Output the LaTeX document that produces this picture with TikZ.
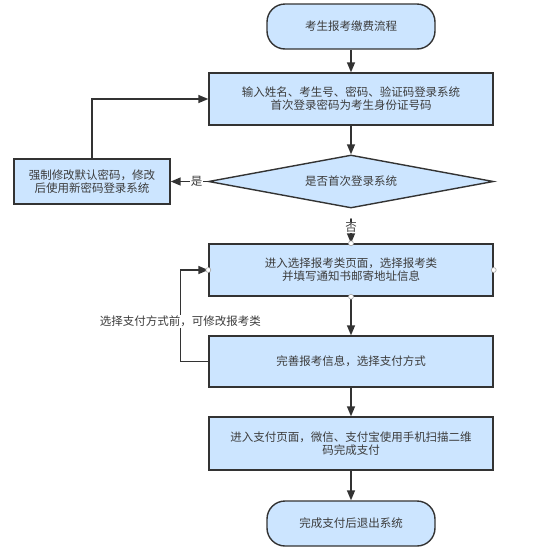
\documentclass[tikz,border=0pt]{standalone}
\usepackage{fontspec}
\setmainfont{Noto Sans CJK SC}
\usetikzlibrary{shapes.geometric,arrows.meta}
\definecolor{boxfill}{HTML}{CCE5FF}
\definecolor{boxline}{HTML}{333333}
\definecolor{txt}{HTML}{3C3C3C}
\begin{document}
\begin{tikzpicture}[x=1pt,y=-1pt,
  every node/.style={font=\fontsize{11.5}{13}\selectfont, text=txt},
  proc/.style={draw=boxline, fill=boxfill, line width=1.4pt, minimum width=284pt, minimum height=52pt, align=center, inner sep=0pt},
  term/.style={draw=boxline, fill=boxfill, line width=1.4pt, rounded corners=18pt, minimum width=168pt, minimum height=45pt, align=center, inner sep=0pt},
  decide/.style={draw=boxline, fill=boxfill, line width=1.4pt, diamond, aspect=5.4, minimum width=285pt, minimum height=53pt, inner sep=0pt},
  conn/.style={draw=boxline, line width=1.5pt, -{Triangle[length=10pt,width=8pt]}},
  lbl/.style={fill=white, inner sep=1pt},
  port/.style={circle, draw=gray!70, fill=white, line width=0.6pt, minimum size=5pt, inner sep=0pt}]
\useasboundingbox (0,0) rectangle (540,555);

\node[term] (start) at (351,26.5) {考生报考缴费流程};
\node[proc] (login) at (351,99) {输入姓名、考生号、密码、验证码登录系统\\首次登录密码为考生身份证号码};
\node[decide] (first) at (351,181.5) {是否首次登录系统};
\node[proc, minimum width=156pt, minimum height=45pt] (change) at (92,181.5) {强制修改默认密码，修改\\后使用新密码登录系统};
\node[proc] (select) at (351,270) {进入选择报考类页面，选择报考类\\并填写通知书邮寄地址信息};
\node[proc, minimum height=51pt] (info) at (351,361.5) {完善报考信息，选择支付方式};
\node[proc, minimum height=53pt] (pay) at (351,443.5) {进入支付页面，微信、支付宝使用手机扫描二维\\码完成支付};
\node[term] (finish) at (351,523.5) {完成支付后退出系统};

\draw[conn] (start) -- (login);
\draw[conn] (login) -- (first);
\draw[conn] (first.west) -- node[lbl, pos=0.3] {是} (change.east);
\draw[conn] (change.north) |- (login.west);
\coordinate (nostart) at (351,219);
\fill[boxline] (nostart) circle (0.9pt);
\draw[conn] (nostart) -- node[lbl, pos=0.35] {否} (select.north);
\draw[conn] (select) -- (info);
\draw[conn] (info.west) -- ++(-28,0) |- node[lbl, pos=0.22] {选择支付方式前，可修改报考类} (select.west);
\draw[conn] (pay.north |- info.south) -- (pay.north);
\draw[conn] (pay) -- (finish);

\node[port] at (select.north) {};
\node[port] at (select.south) {};
\node[port] at (select.west) {};
\node[port] at (select.east) {};
\end{tikzpicture}
\end{document}
